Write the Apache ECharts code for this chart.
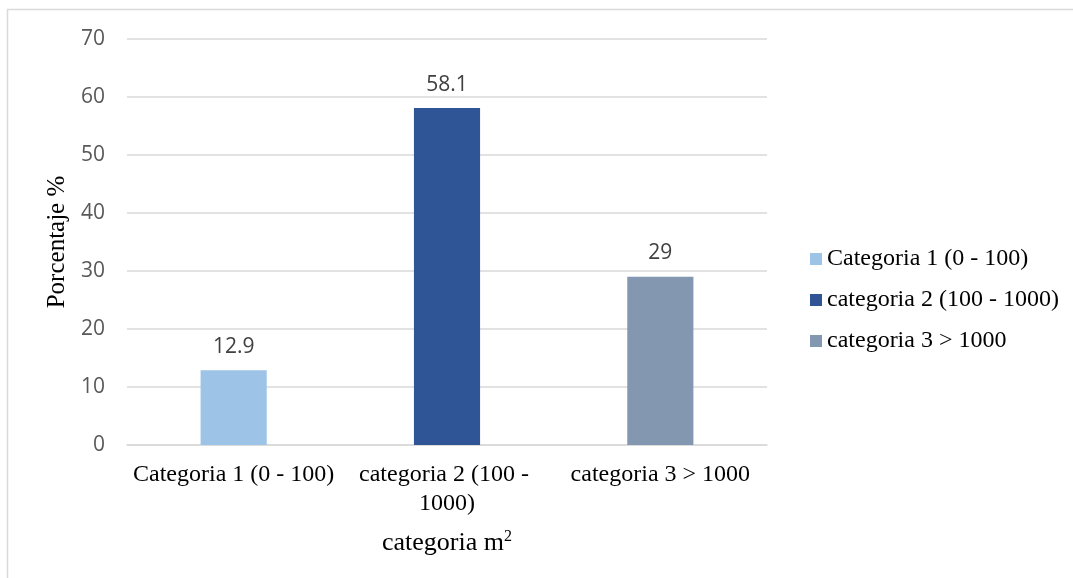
<!DOCTYPE html>
<html>
<head>
<meta charset="utf-8">
<script src="https://cdn.jsdelivr.net/npm/echarts@6/dist/echarts.min.js"></script>
<style>
  html, body { margin: 0; padding: 0; background: #fff; }
  #chart { width: 1073px; height: 578px; }
</style>
</head>
<body>
<div id="chart"></div>
<script>
// Surface share by size category
const categories = ['Categoria 1 (0 - 100)', 'categoria 2 (100 - 1000)', 'categoria 3 > 1000'];
const values = [12.9, 58.1, 29];
const colors = ['#9dc3e6', '#2f5597', '#8497b0'];
const yTicks = { min: 0, max: 70, interval: 10 };

const serif = '"Liberation Serif", "Times New Roman", serif';
const sans = '"Open Sans", "Noto Sans", sans-serif';

// One series per category so each gets its own legend entry; stacking keeps bars centred.
const series = categories.map((name, i) => ({
  name: name,
  type: 'bar',
  stack: 'all',
  barWidth: '31%',
  itemStyle: { color: colors[i] },
  label: {
    show: true,
    position: 'top',
    distance: 13,
    color: '#404040',
    fontFamily: sans,
    fontSize: 21
  },
  data: categories.map((c, j) => (j === i ? values[i] : '-'))
}));

const chart = echarts.init(document.getElementById('chart'));
chart.setOption({
  animation: false,
  backgroundColor: '#fff',
  graphic: [{
    type: 'rect',
    shape: { x: 7.5, y: 9.5, width: 1200, height: 700 },
    style: { fill: 'none', stroke: '#d9d9d9', lineWidth: 1.5 },
    silent: true
  }],
  grid: { left: 127, right: 306, top: 39, bottom: 133 },
  legend: {
    orient: 'vertical',
    left: 805,
    top: 242,
    itemWidth: 12,
    itemHeight: 12,
    itemGap: 17,
    icon: 'rect',
    textStyle: { fontFamily: serif, fontSize: 24, color: '#000' },
    data: categories
  },
  xAxis: {
    type: 'category',
    data: categories,
    name: 'categoria m{sup|2}',
    nameLocation: 'middle',
    nameGap: 84,
    nameTextStyle: {
      fontFamily: serif, fontSize: 26, color: '#000',
      rich: { sup: { fontFamily: serif, fontSize: 16, color: '#000', verticalAlign: 'top', padding: [0, 0, 12, 0] } }
    },
    axisLine: { lineStyle: { color: '#d9d9d9', width: 1.5 } },
    axisTick: { show: false },
    axisLabel: {
      interval: 0,
      margin: 15,
      width: 205,
      overflow: 'break',
      lineHeight: 29,
      fontFamily: serif,
      fontSize: 24,
      color: '#000'
    }
  },
  yAxis: {
    type: 'value',
    min: yTicks.min,
    max: yTicks.max,
    interval: yTicks.interval,
    name: 'Porcentaje %',
    nameLocation: 'middle',
    nameGap: 56,
    nameTextStyle: { fontFamily: serif, fontSize: 25, color: '#000' },
    axisLine: { show: false },
    axisTick: { show: false },
    splitLine: { lineStyle: { color: '#d9d9d9', width: 1.5 } },
    axisLabel: { margin: 22, fontFamily: sans, fontSize: 21, color: '#595959' }
  },
  series: series
});
</script>
</body>
</html>
